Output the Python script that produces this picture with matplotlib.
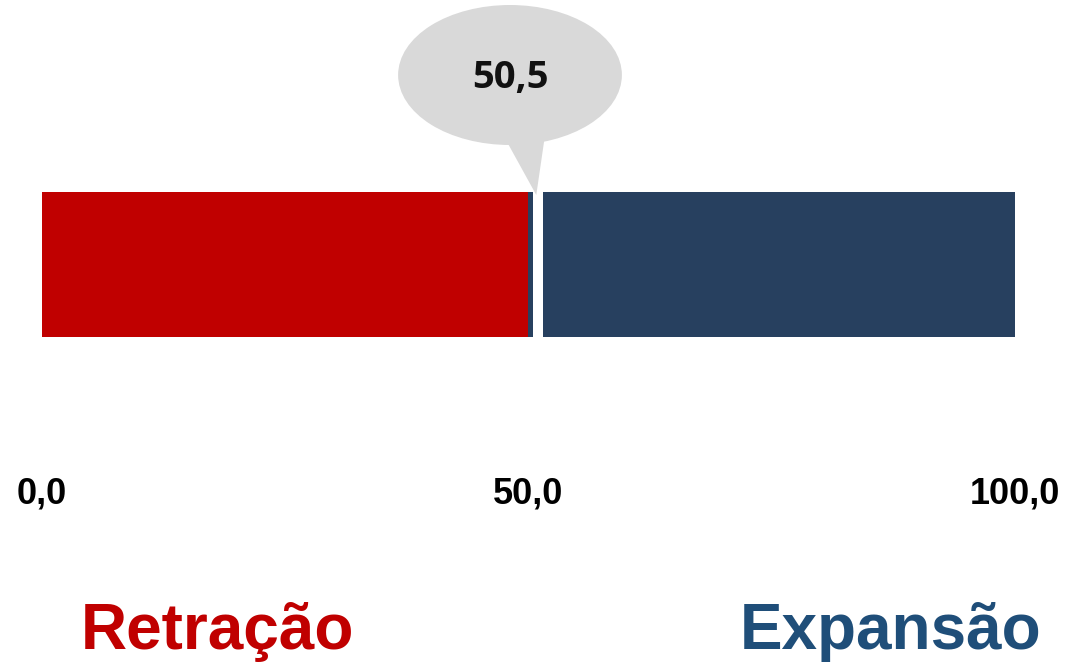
import matplotlib.pyplot as plt
from matplotlib.patches import Ellipse, Polygon

# data
index_value = 50.5
neutral = 50.0
scale_min = 0.0
scale_max = 100.0
tick_values = [0.0, 50.0, 100.0]
side_labels = ["Retração", "Expansão"]

red = "#C00000"
navy = "#27405F"
label_blue = "#1F4E79"
grey = "#D9D9D9"


def fmt(v):
    return f"{v:.1f}".replace(".", ",")


fig = plt.figure(figsize=(10.68, 6.70), dpi=100)
ax = fig.add_axes([0, 0, 1, 1])
ax.set_xlim(-4.317, 105.45)
ax.set_ylim(670, 0)
ax.axis("off")

bar_y = 264.5
bar_h = 145
gap = 1.0

ax.barh(bar_y, neutral - scale_min, left=scale_min, height=bar_h, color=red)
ax.barh(bar_y, index_value - neutral, left=neutral, height=bar_h, color=navy)
ax.barh(bar_y, scale_max - index_value - gap, left=index_value + gap,
        height=bar_h, color=navy)

# speech bubble with the index value
cx = index_value - 2.4
bubble = Ellipse((cx, 75), 23.0, 140, facecolor=grey, edgecolor="none")
ax.add_patch(bubble)
tail = Polygon([(cx - 0.7, 135), (cx + 3.6, 135), (index_value + 0.3, 195)],
               closed=True, facecolor=grey, edgecolor="none")
ax.add_patch(tail)
ax.text(cx, 78, fmt(index_value), ha="center", va="center", fontsize=27.5,
        fontweight="bold", fontstyle="normal", family="Open Sans",
        color="#111111")

for t in tick_values:
    ax.text(t, 494, fmt(t), ha="center", va="center", fontsize=26,
            fontweight="bold", family="Liberation Sans", color="black")

ax.text(18.0, 632, side_labels[0], ha="center", va="center", fontsize=46,
        fontweight="bold", family="Liberation Sans", color=red)
ax.text(87.2, 632, side_labels[1], ha="center", va="center", fontsize=46,
        fontweight="bold", family="Liberation Sans", color=label_blue)

fig.savefig("out.png", dpi=100)
